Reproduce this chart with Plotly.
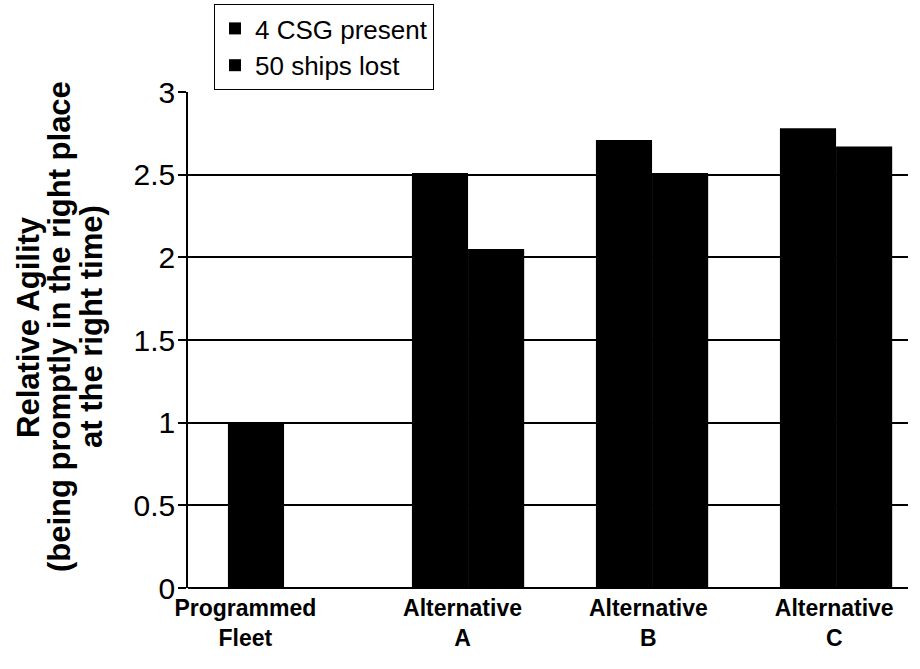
import plotly.graph_objects as go

# Chart data
categories = ["Programmed<br>Fleet", "Alternative<br>A", "Alternative<br>B", "Alternative<br>C"]
csg_present = [1.0, 2.51, 2.71, 2.78]
ships_lost = [None, 2.05, 2.51, 2.67]
y_ticks = [0, 0.5, 1, 1.5, 2, 2.5, 3]
y_tick_labels = ["0", "0.5", "1", "1.5", "2", "2.5", "3"]
title_lines = ["Relative Agility", "(being promptly in the right place", "at the right time)"]

x_pos = list(range(len(categories)))
label_pos = [-0.21, 0.97, 1.98, 2.99]

FONT = "Liberation Sans, Arial, sans-serif"
L, T, W, H = 188, 92, 720, 496   # plot area in pixels

fig = go.Figure()
fig.add_trace(go.Bar(x=x_pos, y=csg_present, name="4 CSG present",
                     marker=dict(color="#000000", line=dict(width=0))))
fig.add_trace(go.Bar(x=x_pos, y=ships_lost, name="50 ships lost",
                     marker=dict(color="#000000", line=dict(width=0))))

# rotated axis title, one annotation per line for tight line spacing
title_x = [28, 59, 91]
title_center_y = 327
annotations = [
    dict(text=f"<b>{line}</b>", xref="paper", yref="paper",
         x=(px - L) / W, y=(T + H - title_center_y) / H,
         xanchor="center", yanchor="middle", textangle=-90, showarrow=False,
         font=dict(size=31, family=FONT, color="black"))
    for line, px in zip(title_lines, title_x)
]

fig.update_layout(
    width=920, height=669,
    margin=dict(l=L, r=920 - L - W, t=T, b=669 - T - H, autoexpand=False),
    paper_bgcolor="white", plot_bgcolor="white",
    barmode="group", bargap=0.39, bargroupgap=0,
    font=dict(family=FONT, color="black"),
    showlegend=True,
    legend=dict(
        x=(214 - L) / W, y=1 + (T - 4) / H,
        xanchor="left", yanchor="top",
        bordercolor="black", borderwidth=1, bgcolor="white",
        font=dict(size=26, family=FONT, color="black"),
        tracegroupgap=0,
    ),
    xaxis=dict(
        range=[-0.522, 3.391],
        tickmode="array", tickvals=label_pos, ticktext=categories,
        tickfont=dict(size=23, family=FONT, weight="bold"),
        ticks="", showgrid=False, zeroline=False, showline=False,
        ticklabelstandoff=4,
    ),
    yaxis=dict(
        range=[0, 3],
        tickmode="array", tickvals=y_ticks, ticktext=y_tick_labels,
        tickfont=dict(size=30, family=FONT),
        ticks="outside", ticklen=8, tickcolor="black", tickwidth=1.5,
        ticklabelstandoff=-3,
        showgrid=True, gridcolor="black", gridwidth=1.6,
        zeroline=True, zerolinecolor="black", zerolinewidth=1.6,
        showline=True, linecolor="black", linewidth=1.6,
    ),
    annotations=annotations,
)

fig.write_html("out.html")
